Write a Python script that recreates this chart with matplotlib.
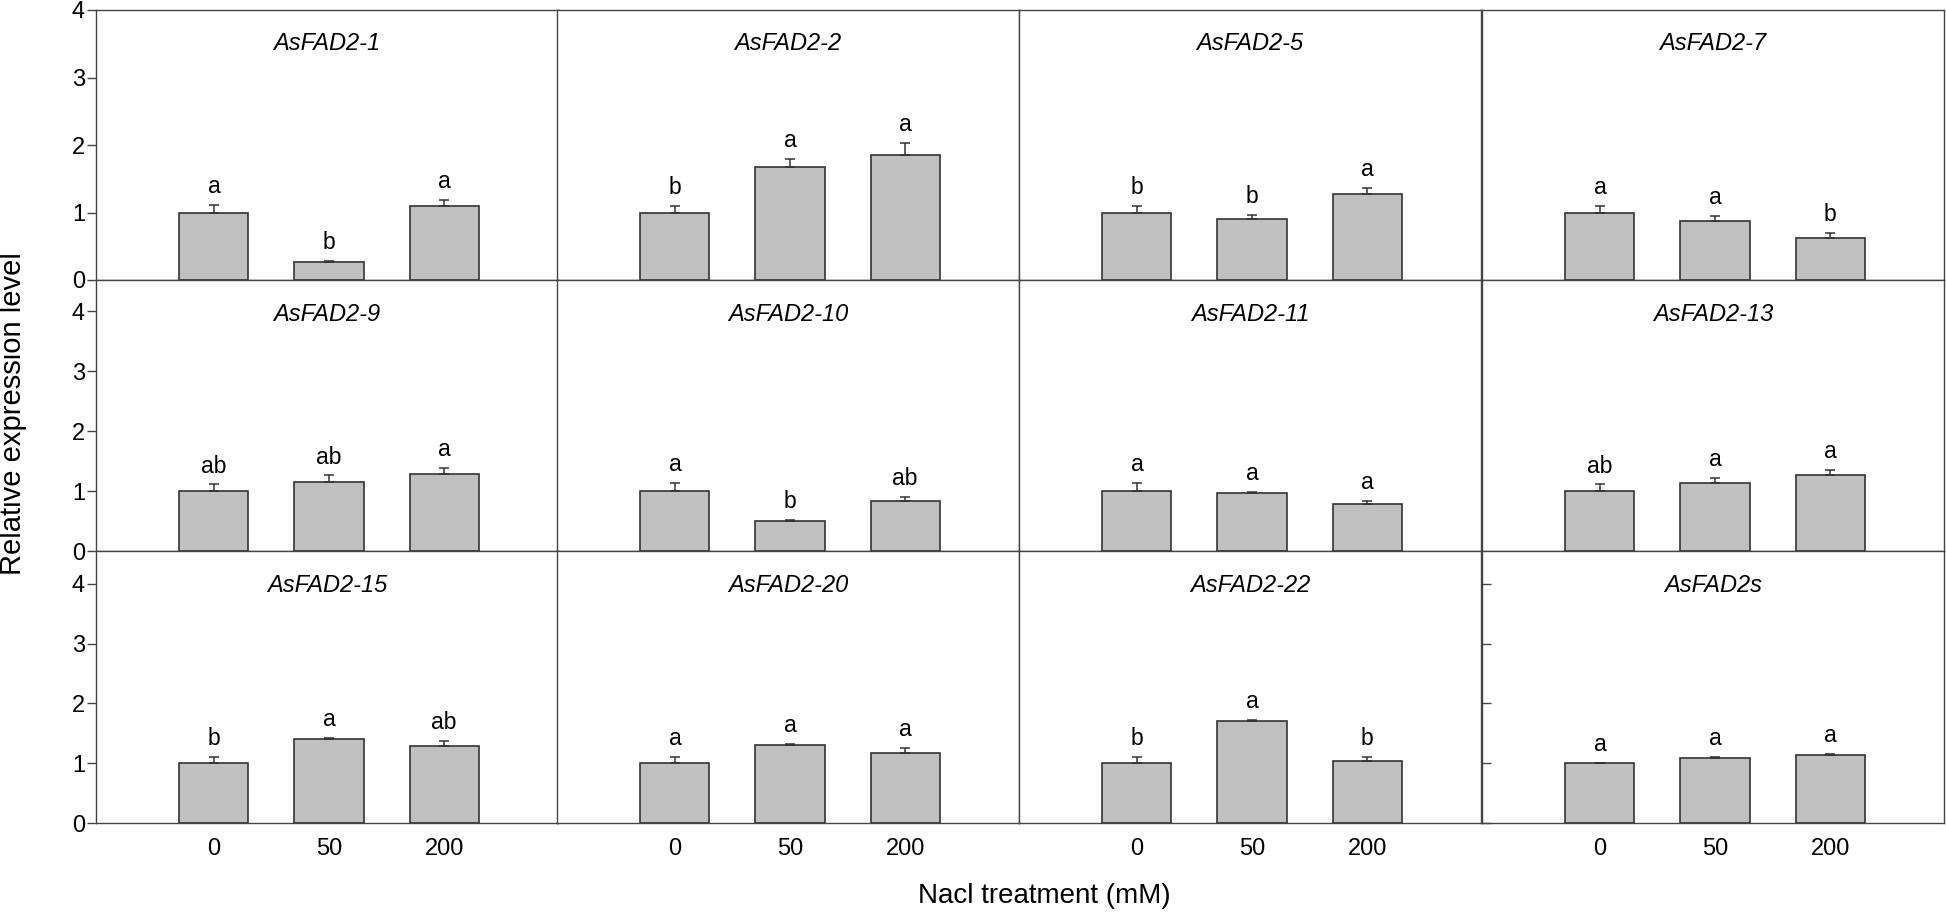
import numpy as np
import matplotlib
matplotlib.use("Agg")
import matplotlib.pyplot as plt

plt.rcParams['font.family'] = ['Liberation Sans', 'DejaVu Sans']

# NaCl concentrations (mM)
treatments = ["0", "50", "200"]

genes = ["AsFAD2-1", "AsFAD2-2", "AsFAD2-5", "AsFAD2-7",
         "AsFAD2-9", "AsFAD2-10", "AsFAD2-11", "AsFAD2-13",
         "AsFAD2-15", "AsFAD2-20", "AsFAD2-22", "AsFAD2s"]

# relative expression (mean) for 0, 50, 200 mM
means = [[1.00, 0.26, 1.09],
         [1.00, 1.68, 1.85],
         [1.00, 0.91, 1.28],
         [1.00, 0.88, 0.62],
         [1.00, 1.15, 1.28],
         [1.00, 0.50, 0.84],
         [1.00, 0.96, 0.78],
         [1.00, 1.14, 1.26],
         [1.00, 1.41, 1.28],
         [1.00, 1.30, 1.17],
         [1.00, 1.70, 1.03],
         [1.00, 1.08, 1.13]]

# standard errors (upper bars only)
errors = [[0.11, 0.02, 0.09],
          [0.10, 0.12, 0.18],
          [0.10, 0.05, 0.08],
          [0.09, 0.07, 0.08],
          [0.11, 0.11, 0.10],
          [0.14, 0.02, 0.06],
          [0.13, 0.02, 0.05],
          [0.11, 0.08, 0.09],
          [0.10, 0.02, 0.09],
          [0.10, 0.02, 0.08],
          [0.11, 0.02, 0.08],
          [0.01, 0.03, 0.03]]

letters = [["a", "b", "a"],
           ["b", "a", "a"],
           ["b", "b", "a"],
           ["a", "a", "b"],
           ["ab", "ab", "a"],
           ["a", "b", "ab"],
           ["a", "a", "a"],
           ["ab", "a", "a"],
           ["b", "a", "ab"],
           ["a", "a", "a"],
           ["b", "a", "b"],
           ["a", "a", "a"]]

row_ylim = [4.0, 4.52, 4.55]

W, H = 1946, 914
fig = plt.figure(figsize=(W / 100, H / 100), dpi=100)

col_left = [96, 557, 1019, 1482]
col_w = 462
row_top = [10, 280, 551]
row_bot = [280, 551, 823]

x = np.arange(len(treatments))
spine_col = "#444444"

for k, gene in enumerate(genes):
    r, c = divmod(k, 4)
    ax = fig.add_axes([col_left[c] / W, 1 - row_bot[r] / H,
                       col_w / W, (row_bot[r] - row_top[r]) / H])
    m = np.array(means[k])
    e = np.array(errors[k])
    ax.bar(x, m, width=0.6, color="#c0c0c0", edgecolor="#333333", linewidth=1.2)
    ax.errorbar(x, m, yerr=[np.zeros_like(e), e], fmt="none", ecolor="#333333",
                elinewidth=1.1, capsize=3.5, capthick=1.1)
    for xi, mi, ei, lt in zip(x, m, e, letters[k]):
        ax.annotate(lt, (xi, mi + ei), xytext=(0, 8.6), textcoords="offset points",
                    ha="center", va="baseline", fontsize=16.5)
    ax.text(0.5, 0.85, gene, transform=ax.transAxes, ha="center", va="baseline",
            fontsize=17, style="italic")
    ax.set_xlim(-1.025, 2.99)
    ax.set_ylim(0, row_ylim[r])
    for s in ax.spines.values():
        s.set_color(spine_col)
        s.set_linewidth(1.0)

    ax.set_xticks(x)
    ax.tick_params(axis="x", length=0, pad=11, labelsize=17)
    if r < 2:
        ax.set_xticklabels([])
    else:
        ax.set_xticklabels(treatments)

    if c == 0:
        ax.set_yticks([0, 1, 2, 3, 4])
        ax.tick_params(axis="y", direction="out", length=6.5, width=1,
                       color=spine_col, pad=1.5, labelsize=17)
    elif r == 2 and c == 3:
        ax.set_yticks([0, 1, 2, 3, 4])
        ax.set_yticklabels([])
        ax.tick_params(axis="y", direction="in", length=6.5, width=1, color=spine_col)
    else:
        ax.set_yticks([])

fig.text(13 / W, 1 - 414 / H, "Relative expression level", rotation=90,
         ha="center", va="center", fontsize=21)
fig.text(1044 / W, 1 - 896 / H, "Nacl treatment (mM)", ha="center", va="center",
         fontsize=20)

fig.savefig("out.png", dpi=100)
